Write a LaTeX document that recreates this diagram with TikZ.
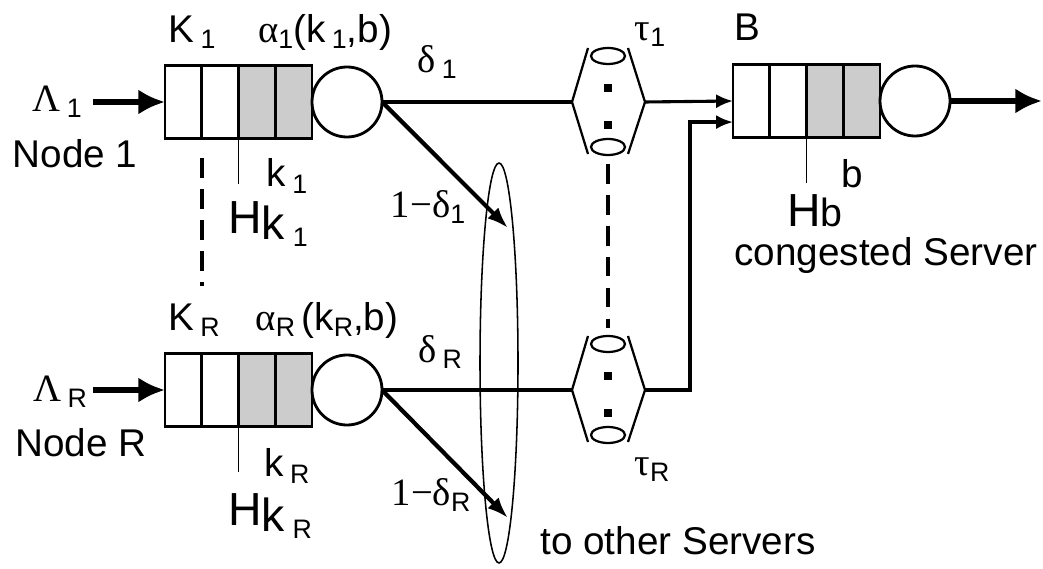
\documentclass[tikz,border=0pt]{standalone}
\usepackage{fontspec}
\setmainfont{Liberation Sans}
\newfontfamily\grk{Liberation Serif}
\usetikzlibrary{positioning,arrows.meta}
\newcommand*{\sub}[1]{\raisebox{-0.3ex}{\fontsize{19}{19}\selectfont #1}}
\newcommand*{\Hbig}{\fontsize{33}{33}\selectfont}
\newcommand*{\queuestation}[3]{% name, left x, centre y
		\foreach \i in {0,1}
   		\node[cell] (#1c\i) at (#2+18.4+36.75*\i,#3) {};
		\foreach \i in {2,3}
   		\node[cell,fill=black!20] (#1c\i) at (#2+18.4+36.75*\i,#3) {};
		\node[server] (#1s) at (#2+182,#3) {};
}
\newcommand*{\tauvalve}[3]{% name, centre x, centre y
		\coordinate (#1w) at (#2-36,#3);
		\coordinate (#1e) at (#2+37,#3);
		\coordinate (#1top) at (#2,#3-62);
		\coordinate (#1bot) at (#2,#3+62);
		\draw[valve] (#2-20,#3-54) -- (#1w) -- (#2-20,#3+52);
		\draw[valve] (#2+20,#3-54) -- (#1e) -- (#2+20,#3+52);
		\draw[valve] (#2,#3-46) ellipse [x radius=17,y radius=8];
		\draw[valve] (#2,#3+45) ellipse [x radius=17,y radius=8];
		\fill (#2-4,#3-18) rectangle ++(8,8);
		\fill (#2-4,#3+19) rectangle ++(8,8);
}
\tikzset{cell/.style={draw, line width=2pt, minimum width=0.919cm, minimum height=1.83cm, inner sep=0pt, outer sep=0pt}}
\tikzset{server/.style={circle, draw, line width=2pt, minimum size=1.75cm, inner sep=0pt, outer sep=0pt}}
\tikzset{valve/.style={line width=1.6pt}}
\tikzset{lbl/.style={inner sep=0pt, font=\fontsize{27.5}{27.5}\selectfont}}
\tikzset{conn/.style={line width=2.2pt}}
\tikzset{dashline/.style={line width=3pt, dash pattern=on 14pt off 8pt}}
\tikzset{bigarrow/.style={line width=4pt, -{Latex[length=19pt,width=18pt]}}}
\tikzset{splitarrow/.style={line width=3pt, -{Latex[length=15pt,width=11pt]}}}
\begin{document}
\begin{tikzpicture}[x=0.025cm,y=-0.025cm]
			\useasboundingbox (0,0) rectangle (1043,569);
			% queues
			\queuestation{qa}{165}{102}
			\queuestation{qr}{165}{390}
			\queuestation{qb}{733}{101}
			\tauvalve{ha}{608}{102}
			\tauvalve{hr}{608}{390}
			% free ends
			\coordinate (ina) at (93,102);
			\coordinate (inr) at (93,390);
			\coordinate (outa) at (508,228);
			\coordinate (outr) at (508,518);
			\coordinate (outb) at (1042,101);
			% connectors
			\draw[bigarrow] (ina) -- (qac0.west);
			\draw[bigarrow] (inr) -- (qrc0.west);
			\draw[bigarrow] (qbs.east) -- (outb);
			\draw[splitarrow] (qas.east) -- (outa);
			\draw[splitarrow] (qrs.east) -- (outr);
			\draw[conn] (qas.east) -- (haw);
			\draw[conn] (qrs.east) -- (hrw);
			\draw[conn, -{Latex[length=12pt,width=10pt]}] (hae) -- (qbc0.west);
			\draw[conn, line width=2.8pt, -{Latex[length=12pt,width=10pt]}] (hre) -- ++(45,0) |- ([yshift=-15pt]qbc0.west);
			\draw[line width=1.3pt] (qac1.south east) -- ++(0,45);
			\draw[line width=1.3pt] (qrc1.south east) -- ++(0,45);
			\draw[line width=1.3pt] (qbc1.south east) -- ++(0,45);
			\draw[dashline, shorten <=14pt, shorten >=48pt] (qac0.south east) -- (qrc0.north east);
			\draw[dashline] (habot) -- (hrtop);
			\draw[line width=1.1pt] (499,363) ellipse [x radius=19,y radius=200];
			% labels
			\node[lbl] (lama) at (57,102) {{\grk Λ}\,\sub{1}};
			\node[lbl] (lamr) at (60,392) {{\grk Λ}\,\sub{R}};
			\node[lbl] (nodea) at (75,154) {Node 1};
			\node[lbl] (noder) at (81,443) {Node R};
			\node[lbl] (Ka) at (192,32) {K\,\sub{1}};
			\node[lbl] (Kr) at (194,320) {K\,\sub{R}};
			\node[lbl] (alphaa) at (325,32) {{\grk α}\sub{1}(k\,\sub{1},b)};
			\node[lbl] (alphar) at (327,320) {{\grk α}\sub{R}\,(k\sub{R},b)};
			\node[lbl] (ka) at (287,176) {k\,\sub{1}};
			\node[lbl] (kr) at (287,466) {k\,\sub{R}};
			\node[lbl] (Hka) at (268,224) {\Hbig H\raisebox{-4pt}{k\,\sub{1}}};
			\node[lbl] (Hkr) at (270,516) {\Hbig H\raisebox{-4pt}{k\,\sub{R}}};
			\node[lbl] (deltaa) at (437,62) {{\grk δ}\,\sub{1}};
			\node[lbl] (deltar) at (440,352) {{\grk δ}\,\sub{R}};
			\node[lbl] (ndeltaa) at (428,207) {{\grk 1−δ}\sub{1}};
			\node[lbl] (ndeltar) at (431,495) {{\grk 1−δ}\sub{R}};
			\node[lbl] (taua) at (650,35) {{\grk τ}\sub{1}};
			\node[lbl] (taur) at (652,470) {{\grk τ}\sub{R}};
			\node[lbl] (Bl) at (747,27) {B};
			\node[lbl] (bl) at (852,174) {b};
			\node[lbl] (Hb) at (815,211) {\Hbig H{\fontsize{28}{28}\selectfont b}};
			\node[lbl] (cong) at (886,256) {congested Server};
			\node[lbl] (others) at (678,541) {to other Servers};
		\end{tikzpicture}
\end{document}
